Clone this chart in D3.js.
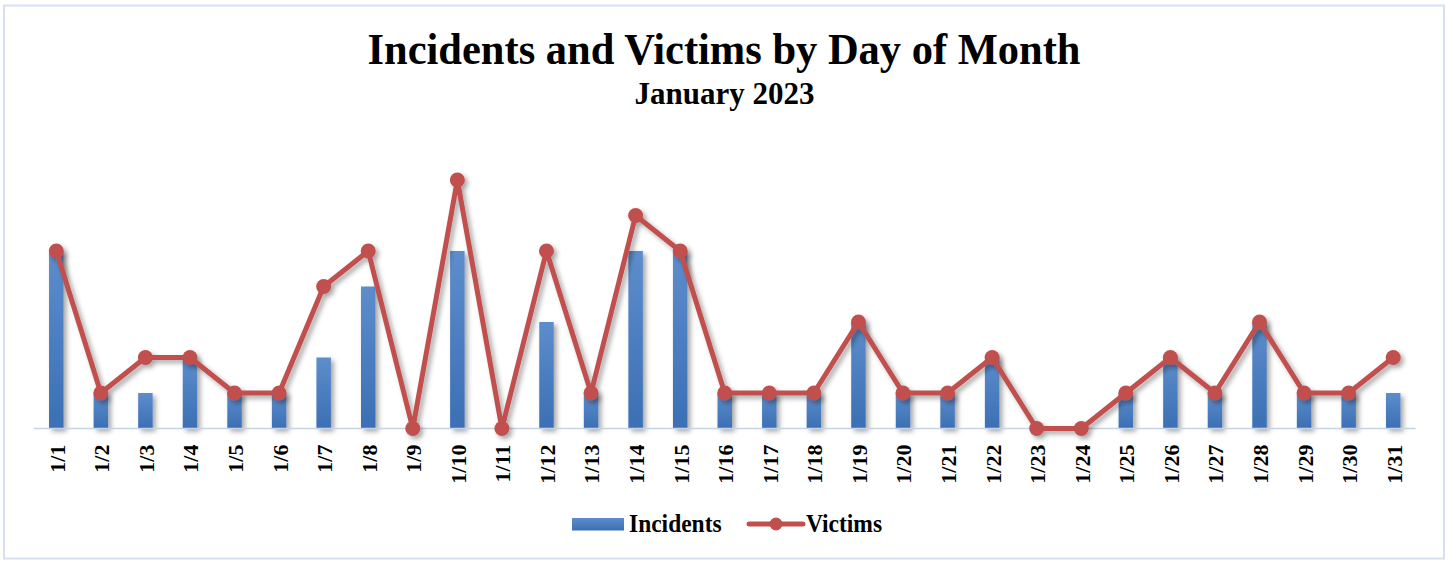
<!DOCTYPE html>
<html><head><meta charset="utf-8">
<script src="https://cdn.jsdelivr.net/npm/d3@7"></script>
<style>body{margin:0;background:#fff}svg{display:block}</style>
</head><body>
<script>
const days = ["1/1","1/2","1/3","1/4","1/5","1/6","1/7","1/8","1/9","1/10","1/11","1/12","1/13","1/14","1/15","1/16","1/17","1/18","1/19","1/20","1/21","1/22","1/23","1/24","1/25","1/26","1/27","1/28","1/29","1/30","1/31"];
const incidents = [5,1,1,2,1,1,2,4,0,5,0,3,1,5,5,1,1,1,3,1,1,2,0,0,1,2,1,3,1,1,1];
const victims   = [5,1,2,2,1,1,4,5,0,7,0,5,1,6,5,1,1,1,3,1,1,2,0,0,1,2,1,3,1,1,2];
const seriesNames = ["Incidents","Victims"];

const W = 1450, H = 561;
const FONT = "'Liberation Serif','Times New Roman',serif";
const svg = d3.select("body").append("svg").attr("width", W).attr("height", H);
const defs = svg.append("defs");
const grad = defs.append("linearGradient").attr("id","barGrad").attr("x1",0).attr("y1",0).attr("x2",0).attr("y2",1);
grad.append("stop").attr("offset","0%").attr("stop-color","#5d8dcc");
grad.append("stop").attr("offset","100%").attr("stop-color","#3b6fb4");
const f = defs.append("filter").attr("id","shadow").attr("x","-20%").attr("y","-20%").attr("width","150%").attr("height","150%");
f.append("feDropShadow").attr("dx",3).attr("dy",3).attr("stdDeviation",2.5).attr("flood-color","#000").attr("flood-opacity",0.35);

// border
svg.append("rect").attr("x",4).attr("y",5.5).attr("width",1440).attr("height",553)
  .attr("fill","#fff").attr("stroke","#d6e0ef").attr("stroke-width",2);

const x = d3.scaleBand().domain(days).range([34, 1415.5]).paddingInner(0.675).paddingOuter(0.3375);
const xp = d3.scalePoint().domain(days).range([34, 1415.5]).padding(0.5);
const y = d3.scaleLinear().domain([0, 8]).range([428.5, 144.5]);

// title
svg.append("text").attr("transform","translate(724,64) scale(1,1.05)").attr("text-anchor","middle")
  .style("font-family",FONT).style("font-weight","bold").style("font-size","42.5px")
  .text("Incidents and Victims by Day of Month");
svg.append("text").attr("transform","translate(724.5,104) scale(1,1.04)").attr("text-anchor","middle")
  .style("font-family",FONT).style("font-weight","bold").style("font-size","31px")
  .text("January 2023");

// bars
svg.append("g").attr("filter","url(#shadow)").selectAll("rect").data(days).join("rect")
  .attr("x", d => x(d)).attr("width", x.bandwidth())
  .attr("y", (d,i) => y(incidents[i])).attr("height", (d,i) => y(0) - y(incidents[i]))
  .attr("fill","url(#barGrad)");

// axis
const ax = svg.append("g").attr("transform",`translate(0,${y(0)})`).call(d3.axisBottom(xp).tickSize(0).tickPadding(0));
ax.select(".domain").attr("stroke","#c5d3e8").attr("stroke-width",1.5).attr("d","M34,0H1415.5");
ax.selectAll(".tick text")
  .attr("transform","rotate(-90)").attr("x",-16).attr("y",0).attr("dy","0.36em").attr("text-anchor","end")
  .style("font-family",FONT).style("font-weight","bold").style("font-size","22px").attr("fill","#000");

// line
const lg = svg.append("g").attr("filter","url(#shadow)");
lg.append("path").datum(victims)
  .attr("d", d3.line().x((d,i) => xp(days[i])).y(d => y(d)))
  .attr("fill","none").attr("stroke","#c0504d").attr("stroke-width",5).attr("stroke-linejoin","round");
lg.selectAll("circle").data(victims).join("circle")
  .attr("cx",(d,i) => xp(days[i])).attr("cy", d => y(d)).attr("r",7.5).attr("fill","#c0504d");

// legend
const leg = svg.append("g").style("font-family",FONT).style("font-weight","bold").style("font-size","23.5px");
leg.append("rect").attr("x",572).attr("y",518).attr("width",52).attr("height",12.5).attr("fill","url(#barGrad)");
leg.append("text").attr("transform","translate(629,532) scale(1,1.08)").text(seriesNames[0]);
leg.append("line").attr("x1",749).attr("x2",803).attr("y1",524).attr("y2",524).attr("stroke","#c0504d").attr("stroke-width",5).attr("stroke-linecap","round");
leg.append("circle").attr("cx",776).attr("cy",524).attr("r",6.5).attr("fill","#c0504d");
leg.append("text").attr("transform","translate(806,532) scale(1,1.08)").text(seriesNames[1]);
</script>
</body></html>
